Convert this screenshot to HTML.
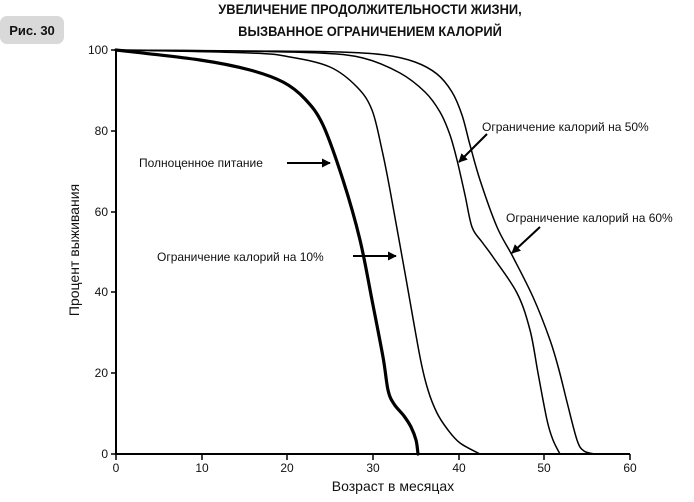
<!DOCTYPE html>
<html><head><meta charset="utf-8"><style>
body{margin:0;background:#fff}
svg text{font-family:"Liberation Sans",sans-serif;fill:#111}
</style></head><body>
<svg width="694" height="497" viewBox="0 0 694 497" xmlns="http://www.w3.org/2000/svg">
<defs><marker id="ah" viewBox="0 0 10 10" refX="9" refY="5" markerWidth="9" markerHeight="9" orient="auto" markerUnits="userSpaceOnUse"><path d="M0,0 L10,5 L0,10 z" fill="#000"/></marker></defs>
<rect x="0" y="16" width="64" height="28" rx="7" fill="#d9d9d9"/>
<text x="32" y="35" font-size="13" font-weight="bold" text-anchor="middle">Рис. 30</text>
<text x="370" y="14" font-size="14" font-weight="bold" text-anchor="middle" transform="scale(0.92,1)" style="transform-origin:370px 0">УВЕЛИЧЕНИЕ ПРОДОЛЖИТЕЛЬНОСТИ ЖИЗНИ,</text>
<text x="370" y="36" font-size="14" font-weight="bold" text-anchor="middle" transform="scale(0.92,1)" style="transform-origin:370px 0">ВЫЗВАННОЕ ОГРАНИЧЕНИЕМ КАЛОРИЙ</text>
<g stroke="#000" stroke-width="2" fill="none">
<line x1="116" y1="50" x2="116" y2="455"/>
<line x1="115" y1="454" x2="630" y2="454"/>
</g>
<g stroke="#000" stroke-width="1.5">
<line x1="111" y1="50" x2="116" y2="50"/><line x1="111" y1="131" x2="116" y2="131"/><line x1="111" y1="212" x2="116" y2="212"/><line x1="111" y1="292" x2="116" y2="292"/><line x1="111" y1="373" x2="116" y2="373"/><line x1="111" y1="454" x2="116" y2="454"/>
<line x1="116" y1="454" x2="116" y2="460"/><line x1="202" y1="454" x2="202" y2="460"/><line x1="287" y1="454" x2="287" y2="460"/><line x1="373" y1="454" x2="373" y2="460"/><line x1="459" y1="454" x2="459" y2="460"/><line x1="544" y1="454" x2="544" y2="460"/><line x1="630" y1="454" x2="630" y2="460"/>
</g>
<g font-size="12" text-anchor="end">
<text x="108" y="54">100</text><text x="108" y="135">80</text><text x="108" y="216">60</text><text x="108" y="296">40</text><text x="108" y="377">20</text><text x="108" y="458">0</text>
</g>
<g font-size="12" text-anchor="middle">
<text x="116" y="472">0</text><text x="202" y="472">10</text><text x="287" y="472">20</text><text x="373" y="472">30</text><text x="459" y="472">40</text><text x="544" y="472">50</text><text x="630" y="472">60</text>
</g>
<text x="393" y="491" font-size="14" text-anchor="middle">Возраст в месяцах</text>
<text x="0" y="0" font-size="14" text-anchor="middle" transform="translate(79,250) rotate(-90)">Процент выживания</text>
<g id="curves" fill="none" stroke="#000" stroke-linejoin="round" stroke-linecap="round">
<polyline stroke-width="3.2" points="116,50 200,60 250,70 283,82 305,99 323,125 343,180 360,240 372,300 383,357 388,390 394,404 404,416 411,427 416,440 418,454"/>
<polyline stroke-width="1.5" points="116,50 250,53 290,57 330,67 357,87 372,110 382,150 390,190 405,273 420,357 428,390 437,413 448,430 460,443 480,454"/>
<polyline stroke-width="1.5" points="116,50 230,51 320,53 363,58 400,73 425,92 440,112 450,135 457,160 465,195 472,227 482,242 493,257 517,293 530,330 538,373 547,420 553,440 560,454"/>
<polyline stroke-width="1.5" points="116,50 250,51 340,52 385,55 415,62 437,74 452,92 462,115 470,145 480,180 497,227 513,257 533,297 550,340 559,370 567,402 577,440 584,451 595,454"/>
</g>
<g font-size="12">
<text x="139" y="167">Полноценное питание</text>
<text x="157" y="261">Ограничение калорий на 10%</text>
<text x="482" y="131">Ограничение калорий на 50%</text>
<text x="506" y="222">Ограничение калорий на 60%</text>
</g>
<g stroke="#000" stroke-width="2" marker-end="url(#ah)">
<line x1="287" y1="163" x2="330" y2="163"/>
<line x1="353" y1="256" x2="396" y2="256"/>
<line x1="487" y1="134" x2="459" y2="162"/>
<line x1="540" y1="227" x2="512" y2="253"/>
</g>
</svg>
<script>
(function(){
var NS="http://www.w3.org/2000/svg";
var pls=document.querySelectorAll("#curves polyline");
for(var k=0;k<pls.length;k++){
 var pl=pls[k];
 var pts=pl.getAttribute("points").trim().split(/\s+/).map(function(s){var a=s.split(",");return [+a[0],+a[1]];});
 var d="M"+pts[0][0]+","+pts[0][1];
 for(var i=0;i<pts.length-1;i++){
  var p0=pts[i-1]||pts[i],p1=pts[i],p2=pts[i+1],p3=pts[i+2]||p2;
  var c1=[p1[0]+(p2[0]-p0[0])/6,p1[1]+(p2[1]-p0[1])/6];
  var c2=[p2[0]-(p3[0]-p1[0])/6,p2[1]-(p3[1]-p1[1])/6];
  d+=" C"+c1[0].toFixed(1)+","+c1[1].toFixed(1)+" "+c2[0].toFixed(1)+","+c2[1].toFixed(1)+" "+p2[0]+","+p2[1];
 }
 var p=document.createElementNS(NS,"path");
 p.setAttribute("d",d);p.setAttribute("stroke-width",pl.getAttribute("stroke-width"));
 pl.parentNode.replaceChild(p,pl);
}
})();
</script>
</body></html>
